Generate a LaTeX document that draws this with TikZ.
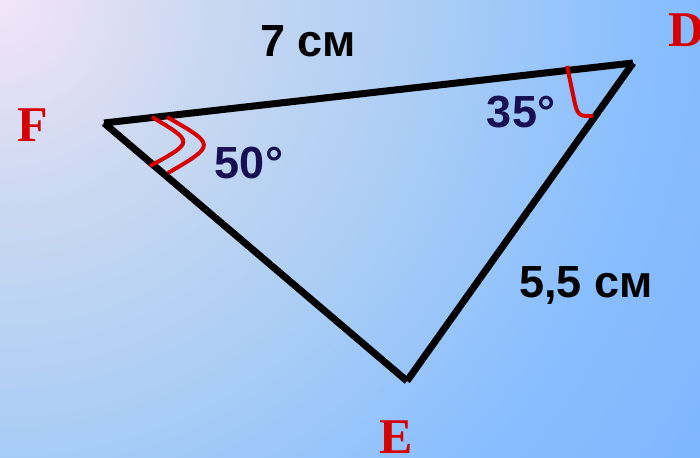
\documentclass[tikz,border=0pt]{standalone}
\usepackage{fontspec}
\setmainfont{Liberation Sans}
\newfontfamily\vfont{Liberation Serif}
\definecolor{bgA}{RGB}{244,228,248}
\definecolor{bgB}{RGB}{201,216,241}
\definecolor{bgC}{RGB}{172,206,245}
\definecolor{bgD}{RGB}{137,190,255}
\definecolor{bgE}{RGB}{127,183,255}
\definecolor{vred}{RGB}{214,0,0}
\definecolor{angnavy}{RGB}{24,14,82}
\pgfdeclareradialshading{bgshade}{\pgfpoint{0bp}{0bp}}{color(0bp)=(bgA); color(6.25bp)=(bgB); color(12.5bp)=(bgC); color(19.35bp)=(bgD); color(24.75bp)=(bgE); color(50bp)=(bgE)}
\begin{document}
\begin{tikzpicture}[x=1pt,y=-1pt,
  side/.style={line width=7pt, line cap=butt, black},
  anglemark/.style={line width=4pt, vred, line cap=butt},
  vlabel/.style={text=vred, font=\vfont\bfseries\fontsize{50}{56}\selectfont, inner sep=0pt},
  measure/.style={text=black, font=\bfseries\fontsize{45}{54}\selectfont, anchor=base, inner sep=0pt},
  angtext/.style={text=angnavy, font=\bfseries\fontsize{45}{54}\selectfont, anchor=base, inner sep=0pt}]
\useasboundingbox (0,0) rectangle (700,457);
\begin{scope}
  \clip (0,0) rectangle (700,457);
  \fill[bgE] (0,0) rectangle (700,457);
  \shade[shading=bgshade] (0,0) circle[radius=840];
\end{scope}
% vertices
\coordinate (F) at (104,123);
\coordinate (D) at (633,63);
\coordinate (E) at (407,381);
% sides
\draw[side] (F) -- (D);
\draw[side] (D) -- (E);
\draw[side] (E) -- (F);
% angle marks
\draw[anglemark] (152,117) .. controls (194,142) .. (150,166);
\draw[anglemark] (167,117) .. controls (216,145) .. (168,173);
\draw[anglemark] (567,66) -- (575,104) .. controls (578,117) and (582,116) .. (593,116);
% vertex labels
\node[vlabel] (lF) at (33,125) {F};
\node[vlabel] (lD) at (687,30) {D};
\node[vlabel] (lE) at (396,437) {E};
% measures
\node[measure] (sFD) at (308,57) {7 см};
\node[measure] (sDE) at (586,297) {5,5 см};
\node[angtext] (aD) at (521,128) {35°};
\node[angtext] (aF) at (249,178) {50°};
\end{tikzpicture}
\end{document}
